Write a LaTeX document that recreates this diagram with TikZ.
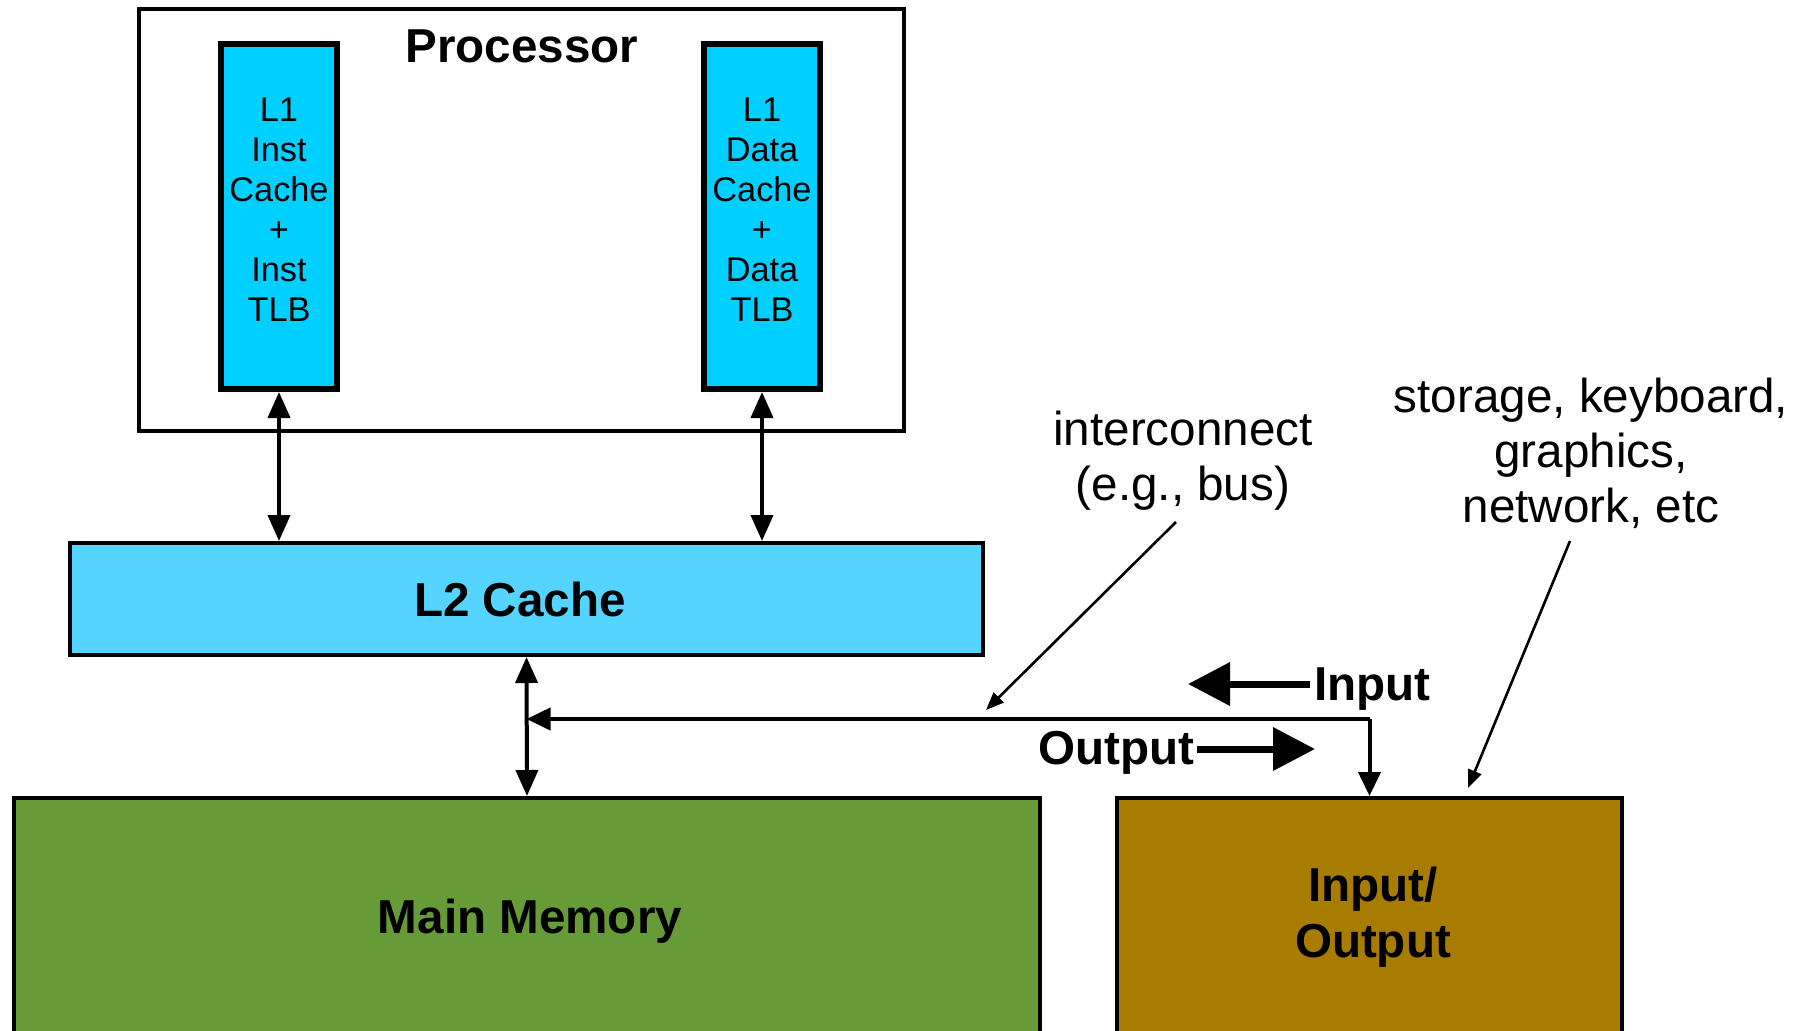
\documentclass[tikz,border=0pt]{standalone}
\usepackage{fontspec}
\setmainfont{Liberation Sans}
\usetikzlibrary{arrows.meta,fit}
\definecolor{lonec}{RGB}{0,208,255}
\definecolor{ltwoc}{RGB}{85,212,255}
\definecolor{memc}{RGB}{102,155,55}
\definecolor{ioc}{RGB}{168,124,0}
\begin{document}
\begin{tikzpicture}[x=0.5pt,y=-0.5pt,
  box/.style={draw=black,rectangle,inner sep=0pt},
  txt/.style={inner sep=0pt,align=center},
  bigb/.style={font=\fontsize{23.8}{27.75}\selectfont\bfseries},
  bigr/.style={font=\fontsize{23.8}{27.5}\selectfont},
  small/.style={font=\fontsize{17.15}{20}\selectfont},
  link/.style={line width=2pt,{Triangle[length=13pt,width=11pt]}-{Triangle[length=13pt,width=11pt]}},
  onearr/.style={line width=2pt,-{Triangle[length=12pt,width=11pt]}},
  pointer/.style={line width=1.3pt,-{Triangle[length=9pt,width=7pt]}},
  flow/.style={line width=3.5pt,-{Triangle[length=21pt,width=21pt]}}]
\useasboundingbox (0,0) rectangle (1812,1030);
\clip (0,0) rectangle (1812,1030);
\fill[white] (0,0) rectangle (1812,1030);

% boxes
\node[box,line width=1.75pt,fit={(139,9)(904,431)}] (proc) {};
\node[box,line width=3pt,fill=lonec,fit={(221,44)(337,389)}] (l1i) {};
\node[box,line width=3pt,fill=lonec,fit={(704,44)(820,389)}] (l1d) {};
\node[box,line width=2pt,fill=ltwoc,fit={(70,543)(983,655)}] (l2) {};
\node[box,line width=2pt,fill=memc,fit={(14,798)(1040,1045)}] (mem) {};
\node[box,line width=2pt,fill=ioc,fit={(1117,798)(1622,1045)}] (io) {};

% texts
\node[txt,bigb,anchor=base] (proctxt) at (522,62) {Processor};
\node[txt,small,anchor=north] (l1itxt) at (279,97.5) {L1\\Inst\\Cache\\+\\Inst\\TLB};
\node[txt,small,anchor=north] (l1dtxt) at (762,97.5) {L1\\Data\\Cache\\+\\Data\\TLB};
\node[txt,bigb,anchor=base] (l2txt) at (520,616) {L2 Cache};
\node[txt,bigb,anchor=base] (memtxt) at (530,933) {Main Memory};
\node[txt,bigb,anchor=north] (iotxt) at (1373,867) {Input/\\Output};
\node[txt,bigr,anchor=north] (intc) at (1183,411) {interconnect\\(e.g., bus)};
\node[txt,bigr,anchor=north] (devs) at (1591,378) {storage, keyboard,\\graphics,\\network, etc};
\node[txt,bigb,anchor=base west] (inlbl) at (1314,700) {Input};
\node[txt,bigb,anchor=base west] (outlbl) at (1038,764) {Output};

% connectors
\draw[link] (l1i.south) -- (l1i.south |- l2.north);
\draw[link] (l1d.south) -- (l1d.south |- l2.north);
\draw[link] (l2.south) -- (mem.north);
\coordinate (busy) at (0,719);
\coordinate (bend) at (io.north |- busy);
\coordinate (busl) at (l2.south |- busy);
\draw[onearr] (bend) -- (busl);
\draw[onearr] (bend) -- (io.north);

% pointers
\coordinate (intcs) at (1176,522);
\coordinate (intce) at (986,710);
\draw[pointer] (intcs) -- (intce);
\coordinate (devss) at (1570,541);
\coordinate (devse) at (1468,788);
\draw[pointer] (devss) -- (devse);

% flow arrows
\draw[flow] ([xshift=-2pt]inlbl.west |- 0,684) -- (1188,684);
\draw[flow] ([xshift=1pt]outlbl.east |- 0,749) -- (1315,749);
\end{tikzpicture}
\end{document}
